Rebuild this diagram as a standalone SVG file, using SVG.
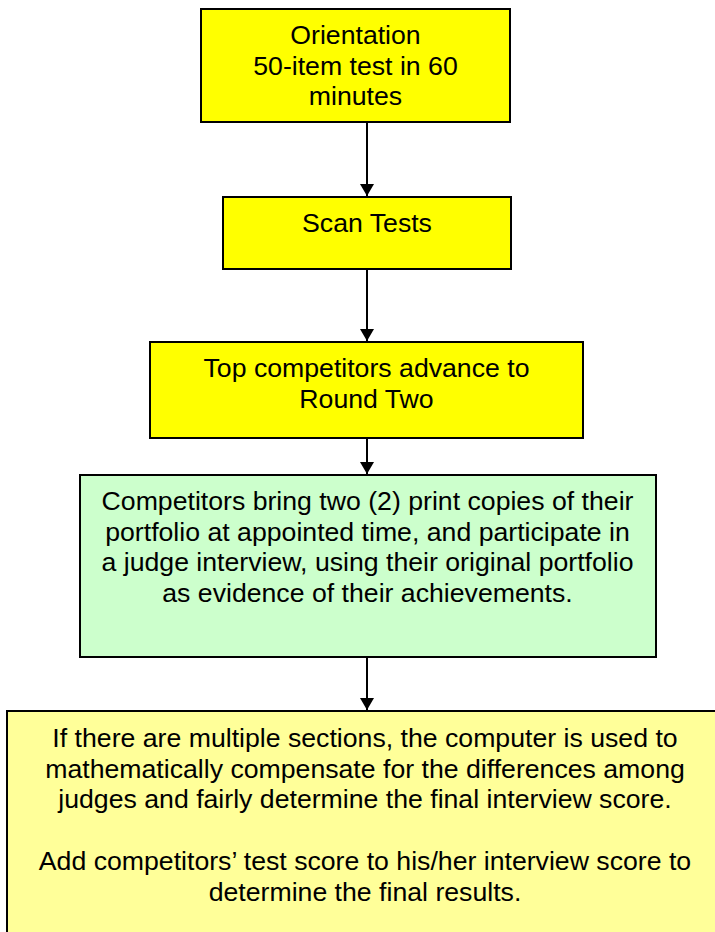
<svg xmlns="http://www.w3.org/2000/svg" width="715" height="932" viewBox="0 0 715 932">
  <defs>
    <style>
      .box { stroke: #000; stroke-width: 2; }
      .y { fill: #FFFF00; }
      .g { fill: #CCFFCC; }
      .ly { fill: #FFFF99; }
      .t { font-family: "Liberation Sans", Arial, sans-serif; font-size: 26.67px; fill: #000; text-anchor: middle; }
      .c { stroke: #000; stroke-width: 2; fill: none; marker-end: url(#ah); }
    </style>
    <marker id="ah" viewBox="0 0 12 14" markerWidth="12" markerHeight="14" refX="12" refY="7" orient="auto" markerUnits="userSpaceOnUse">
      <path d="M0,0 L12,7 L0,14 z" fill="#000"/>
    </marker>
  </defs>
  <rect width="715" height="932" fill="#fff"/>
  <g id="connectors">
    <line class="c" x1="367" y1="123" x2="367" y2="196"/>
    <line class="c" x1="367" y1="269" x2="367" y2="341"/>
    <line class="c" x1="367" y1="438" x2="367" y2="474"/>
    <line class="c" x1="367" y1="657" x2="367" y2="710"/>
  </g>
  <g id="orientation">
    <rect class="box y" x="201" y="9" width="309" height="113"/>
    <text class="t" x="355.5" y="44">Orientation</text>
    <text class="t" x="355.5" y="74.7">50-item test in 60</text>
    <text class="t" x="355.5" y="105.4">minutes</text>
  </g>
  <g id="scan-tests">
    <rect class="box y" x="223" y="197" width="288" height="72"/>
    <text class="t" x="367" y="232">Scan Tests</text>
  </g>
  <g id="top-competitors">
    <rect class="box y" x="150" y="342" width="433" height="96"/>
    <text class="t" x="366.5" y="377">Top competitors advance to</text>
    <text class="t" x="366.5" y="408">Round Two</text>
  </g>
  <g id="round-two">
    <rect class="box g" x="80" y="475" width="576" height="182"/>
    <text class="t" x="367.5" y="510">Competitors bring two (2) print copies of their</text>
    <text class="t" x="367.5" y="540.7">portfolio at appointed time, and participate in</text>
    <text class="t" x="367.5" y="571.4">a judge interview, using their original portfolio</text>
    <text class="t" x="367.5" y="602">as evidence of their achievements.</text>
  </g>
  <g id="final-results">
    <rect class="box ly" x="7" y="711" width="720" height="230"/>
    <text class="t" x="365" y="747">If there are multiple sections, the computer is used to</text>
    <text class="t" x="365" y="777.7">mathematically compensate for the differences among</text>
    <text class="t" x="365" y="808.4">judges and fairly determine the final interview score.</text>
    <text class="t" x="365" y="869.8">Add competitors’ test score to his/her interview score to</text>
    <text class="t" x="365" y="900.5">determine the final results.</text>
  </g>
</svg>
